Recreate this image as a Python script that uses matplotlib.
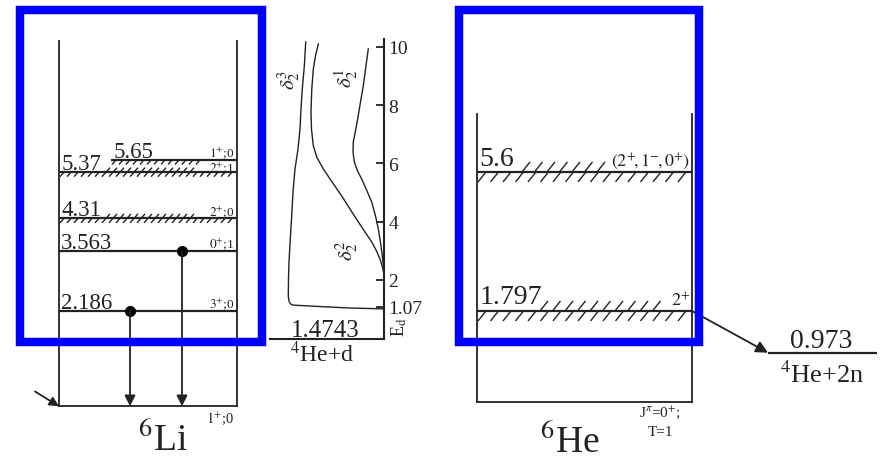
import numpy as np
import matplotlib
matplotlib.use('Agg')
import matplotlib.pyplot as plt
from matplotlib.patches import Rectangle
from matplotlib.collections import LineCollection

plt.rcParams['font.family'] = ['Liberation Serif', 'DejaVu Serif']
plt.rcParams['mathtext.fontset'] = 'stix'

# ---- data ----
li_levels = [0.0, 2.186, 3.563, 4.31, 5.37, 5.65]
li_values = ['', '2.186', '3.563', '4.31', '5.37', '5.65']
li_spins = [r'$1^{+}$;0', r'$3^{+}$;0', r'$0^{+}$;1', r'$2^{+}$;0', r'$2^{+}$;1', r'$1^{+}$;0']
li_broad = [False, False, False, True, True, True]
li_gamma = [2.186, 3.563]
d_threshold = 1.4743

ed_ticks = [1.07, 2, 4, 6, 8, 10]
ed_ticklabels = ['1.07', '2', '4', '6', '8', '10']
# phase curves (E_d, delta)
d23_ed = [10.17, 9.42, 8.56, 7.87, 7.18, 6.49, 5.81, 5.02, 4.19, 3.40, 2.61, 2.03, 1.44,
          1.27, 1.17, 1.13, 1.08, 1.03, 1.00]
d23_ph = [123.6, 125.5, 129.0, 131.1, 132.6, 135.8, 140.5, 143.7, 145.7, 148.0, 150.0, 150.8,
          151.1, 150.0, 147.6, 143.7, 101.1, 53.7, 0.0]
d22_ed = [10.10, 9.69, 9.24, 8.56, 7.77, 7.18, 6.60, 6.19, 5.81, 5.36, 4.88, 4.43, 3.99,
          3.64, 3.30, 2.99, 2.71, 2.44, 2.20]
d22_ph = [103.7, 108.2, 111.6, 114.0, 115.3, 114.5, 111.6, 105.8, 95.8, 82.1, 66.8, 53.7,
          40.6, 30.0, 19.4, 11.8, 6.3, 2.4, 0.0]
d21_ed = [9.93, 9.31, 8.66, 8.11, 7.53, 7.08, 6.74, 6.39, 6.05, 5.74, 5.46, 5.05, 4.67,
          4.19, 3.75, 3.26, 2.82, 2.47, 2.20]
d21_ph = [24.8, 28.7, 32.7, 37.1, 41.5, 45.3, 48.5, 48.9, 46.9, 41.8, 35.2, 26.8, 19.4,
          13.4, 9.0, 5.4, 2.7, 0.9, 0.0]

he_levels = [0.0, 1.797, 5.6]
he_values = ['', '1.797', '5.6']
he_spins = ['', r'$2^{+}$', r'$(2^{+}\!,1^{-}\!,0^{+})$']
he_threshold = 0.973

# ---- layout ----
W, H = 887, 464
INK = '#222222'


def px_rect(x0, y0, x1, y1):
    return [x0 / W, 1 - y1 / H, (x1 - x0) / W, (y1 - y0) / H]


fig = plt.figure(figsize=(W / 100, H / 100), dpi=100)

ax_px = fig.add_axes([0, 0, 1, 1])
ax_px.set_xlim(0, W)
ax_px.set_ylim(H, 0)
ax_px.axis('off')


def to_px(ax, x, y):
    return ax_px.transData.inverted().transform(ax.transData.transform((x, y)))


def hatch(ax, e, xa, xb, above, step, h, slant):
    y0 = to_px(ax, 0.5, e)[1]
    segs = []
    for x in np.arange(xa, xb - slant + 0.1, step):
        if above:
            segs.append([(x, y0), (x + slant, y0 - h)])
        else:
            segs.append([(x, y0 + h), (x + slant, y0)])
    ax_px.add_collection(LineCollection(segs, colors=INK, linewidths=1.0))


def frame(ax):
    ax.set_xlim(0, 1)
    ax.set_xticks([])
    ax.set_yticks([])
    ax.patch.set_alpha(0)
    ax.spines['top'].set_visible(False)
    for s in ('left', 'right', 'bottom'):
        ax.spines[s].set_color(INK)
        ax.spines[s].set_linewidth(1.3)


# ---- 6Li ----
LX0, LX1 = 59, 237
ax_li = fig.add_axes(px_rect(LX0, 41.7, LX1, 407.3))
frame(ax_li)
ax_li.set_ylim(0, (407.3 - 41.7) / 43.6)


def lfrac(x):
    return (x - LX0) / (LX1 - LX0)


for e, val, spin, broad in zip(li_levels, li_values, li_spins, li_broad):
    x0 = lfrac(111) if val == '5.65' else 0
    if e > 0:
        ax_li.hlines(e, x0, 1, color=INK, lw=1.6)
        ax_li.text(x0 + 0.012, e + 0.07, val, fontsize=16.5, ha='left', va='baseline', color=INK)
        dy = 0.02 if val == '5.37' else 0.08
        ax_li.text(0.985, e + dy, spin, fontsize=9.5, ha='right', va='baseline', color=INK)
    else:
        ax_li.text(0.985, -0.08, spin, fontsize=10.5, ha='right', va='top', color=INK)
    if broad:
        if val == '5.65':
            hatch(ax_li, e, 112, 200, False, 7, 4.5, 4)
        else:
            hatch(ax_li, e, 60, 236, False, 7, 4.5, 4)
            hatch(ax_li, e, 106, 200, True, 7, 4.5, 4)

for e, x in zip(li_gamma, [130, 182]):
    ax_li.annotate('', xy=(lfrac(x), 0), xytext=(lfrac(x), e),
                   arrowprops=dict(arrowstyle='-|>', color=INK, lw=1.3,
                                   mutation_scale=16, shrinkA=0, shrinkB=0))
    ax_li.plot(lfrac(x), e, 'o', color='black', ms=7, clip_on=False)

ax_li.annotate('', xy=(0, 0), xytext=(lfrac(35), 0.34), annotation_clip=False,
               arrowprops=dict(arrowstyle='-|>', color=INK, lw=1.3,
                               mutation_scale=14, shrinkA=0, shrinkB=0))
ax_px.text(163, 451, r'$^{6}$Li', fontsize=27, ha='center', va='baseline', color=INK)

# ---- phase shifts vs E_d ----
ax_ed = fig.add_axes(px_rect(270, 40, 384, 340))
ax_ed.patch.set_alpha(0)
ax_ed.set_xlim(180, 0)
ax_ed.set_ylim(-0.034, 10.27)
ax_ed.spines['top'].set_visible(False)
ax_ed.spines['left'].set_visible(False)
for s in ('right', 'bottom'):
    ax_ed.spines[s].set_color(INK)
    ax_ed.spines[s].set_linewidth(1.5)
ax_ed.set_xticks([])
ax_ed.yaxis.tick_right()
ax_ed.set_yticks(ed_ticks)
ax_ed.set_yticklabels(ed_ticklabels)
ax_ed.tick_params(axis='y', direction='in', length=6, width=1.3, color=INK,
                  labelsize=14, pad=3, labelcolor=INK)
for ed, ph in [(d23_ed, d23_ph), (d22_ed, d22_ph), (d21_ed, d21_ph)]:
    ax_ed.plot(ph, ed, color=INK, lw=1.0, clip_on=False)
ax_ed.text(150, 8.9, r'$\delta_2^3$', rotation=90, fontsize=15, ha='center', va='center', color=INK)
ax_ed.text(59, 8.95, r'$\delta_2^1$', rotation=90, fontsize=15, ha='center', va='center', color=INK)
ax_ed.text(59, 3.05, r'$\delta_2^2$', rotation=90, fontsize=15, ha='center', va='center', color=INK)

ax_px.text(399, 327, r'E$_{\rm d}$', rotation=90, fontsize=13, ha='center', va='center', color=INK)
ax_px.text(325, 337, f'{d_threshold:.4f}', fontsize=18, ha='center', va='baseline', color=INK)
ax_px.text(322, 362, r'$^{4}$He+d', fontsize=17, ha='center', va='baseline', color=INK)

# ---- 6He ----
HX0, HX1 = 477, 692


def he_fwd(e):
    e = np.asarray(e, float)
    return np.where(e <= 2, e, 2 + (e - 2) * 0.706)


def he_inv(v):
    v = np.asarray(v, float)
    return np.where(v <= 2, v, 2 + (v - 2) / 0.706)


ax_he = fig.add_axes(px_rect(HX0, 115, HX1, 403))
ax_he.set_yscale('function', functions=(he_fwd, he_inv))
frame(ax_he)
ax_he.set_ylim(0, 7.22)
ax_he.set_yticks([])
ax_he.minorticks_off()


def hfrac(x):
    return (x - HX0) / (HX1 - HX0)


for e, val, spin in zip(he_levels, he_values, he_spins):
    if e == 0:
        continue
    ax_he.hlines(e, 0, 1, color=INK, lw=1.6)
    ax_he.text(0.01, e + 0.04, val, fontsize=20, ha='left', va='bottom', color=INK)
    ax_he.text(0.99, e + 0.04, spin, fontsize=13, ha='right', va='bottom', color=INK)
    hatch(ax_he, e, 478, 692, False, 12.5, 10, 8)

hatch(ax_he, 5.6, 522, 610, True, 12.5, 10, 8)
hatch(ax_he, 1.797, 540, 672, True, 12.5, 10, 8)

ax_he.hlines(he_threshold, hfrac(768), hfrac(877), color=INK, lw=1.6, clip_on=False)
ax_he.annotate('', xy=(hfrac(768), he_threshold), xytext=(1.0, 1.797), annotation_clip=False,
               arrowprops=dict(arrowstyle='-|>', color=INK, lw=1.3,
                               mutation_scale=18, shrinkA=0, shrinkB=0))
ax_px.text(821, 348, f'{he_threshold:.3f}', fontsize=20, ha='center', va='baseline', color=INK)
ax_px.text(822, 383, r'$^{4}$He+2n', fontsize=19, ha='center', va='baseline', color=INK)

ax_px.text(570, 453, r'$^{6}$He', fontsize=27, ha='center', va='baseline', color=INK)
ax_px.text(660, 417, r'J$^{\pi}$=0$^{+}$;', fontsize=11, ha='center', va='baseline', color=INK)
ax_px.text(661, 436, 'T=1', fontsize=11, ha='center', va='baseline', color=INK)

# ---- blue highlight boxes ----
ax_top = fig.add_axes([0, 0, 1, 1], zorder=10)
ax_top.set_xlim(0, W)
ax_top.set_ylim(H, 0)
ax_top.axis('off')
ax_top.patch.set_alpha(0)
ax_top.add_patch(Rectangle((20.5, 10.8), 241.2, 332, fill=False, ec='#0000ff', lw=6.1))
ax_top.add_patch(Rectangle((459, 10.8), 240.5, 332, fill=False, ec='#0000ff', lw=6.1))

fig.savefig('out.png', dpi=100)
